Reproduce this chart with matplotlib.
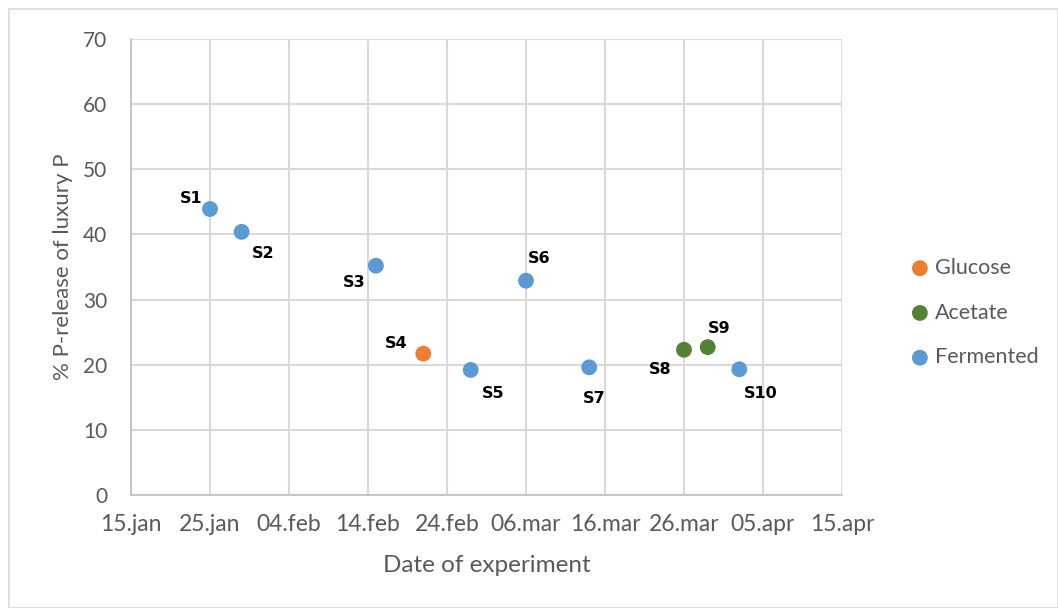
import numpy as np
import matplotlib.pyplot as plt
import matplotlib.dates as mdates
from matplotlib.patches import Rectangle
import datetime as dt

# data
names = ['S1', 'S2', 'S3', 'S4', 'S5', 'S6', 'S7', 'S8', 'S9', 'S10']
dates = ['2019-01-25', '2019-01-29', '2019-02-15', '2019-02-21', '2019-02-27',
         '2019-03-06', '2019-03-14', '2019-03-26', '2019-03-29', '2019-04-02']
prel = [43.9, 40.4, 35.2, 21.7, 19.2, 32.9, 19.6, 22.3, 22.7, 19.3]
group = ['Fermented', 'Fermented', 'Fermented', 'Glucose', 'Fermented',
         'Fermented', 'Fermented', 'Acetate', 'Acetate', 'Fermented']
groups = ['Glucose', 'Acetate', 'Fermented']
colors = {'Glucose': '#ed7d31', 'Acetate': '#548235', 'Fermented': '#5b9bd5'}
# label offsets (pixels) per point
offs = [(-19, 11), (22, -22), (-22, -17), (-27, 10), (22, -24),
        (13, 22), (5, -31), (-24, -20), (11, 19), (21, -24)]

xd = [dt.datetime.strptime(d, '%Y-%m-%d') for d in dates]
xticks = [dt.datetime(2019, 1, 15) + dt.timedelta(days=10 * i) for i in range(10)]
xticklabels = ['15.jan', '25.jan', '04.feb', '14.feb', '24.feb',
               '06.mar', '16.mar', '26.mar', '05.apr', '15.apr']

plt.rcParams['font.family'] = ['Lato', 'DejaVu Sans']
fig = plt.figure(figsize=(10.58, 6.08), dpi=100)
ax = fig.add_axes([131/1058, 113/608, (842-131)/1058, (569-113)/608])

fig.patches.append(Rectangle((9/1058, 0), 1 - 9/1058, 1 - 9/608, transform=fig.transFigure,
                             fill=False, edgecolor='#d9d9d9', lw=1.2))

for g in groups:
    xs = [x for x, gg in zip(xd, group) if gg == g]
    ys = [y for y, gg in zip(prel, group) if gg == g]
    ax.scatter(xs, ys, s=130, color=colors[g], label=g, zorder=3, edgecolors='none')

for n, x, y, o in zip(names, xd, prel, offs):
    ax.annotate(n, (mdates.date2num(x), y), xytext=o, textcoords='offset pixels',
                ha='center', va='center', fontsize=11.5, fontweight='bold',
                family='DejaVu Sans', color='black')

ax.set_xlim(xticks[0], xticks[-1])
ax.set_ylim(0, 70)
ax.set_yticks(range(0, 71, 10))
ax.set_xticks(xticks)
ax.set_xticklabels(xticklabels)
ax.grid(True, color='#d9d9d9', lw=1.5)
ax.set_axisbelow(True)
for s in ['top', 'right']:
    ax.spines[s].set_visible(False)
for s in ['left', 'bottom']:
    ax.spines[s].set_color('#bfbfbf')
    ax.spines[s].set_linewidth(1.2)
ax.tick_params(axis='both', colors='#595959', length=0)
ax.tick_params(axis='y', pad=17, labelsize=15)
ax.tick_params(axis='x', pad=14, labelsize=16.5)
ax.set_ylabel('% P-release of luxury P', fontsize=16, color='#595959', labelpad=7)
ax.set_xlabel('Date of experiment', fontsize=17.5, color='#595959', labelpad=14)

leg = ax.legend(loc='center left', bbox_to_anchor=(1.052, 0.40), frameon=False,
                fontsize=15.5, labelcolor='#595959', handletextpad=-0.3,
                labelspacing=1.15, markerscale=1.0)

fig.savefig('out.png', dpi=100)
